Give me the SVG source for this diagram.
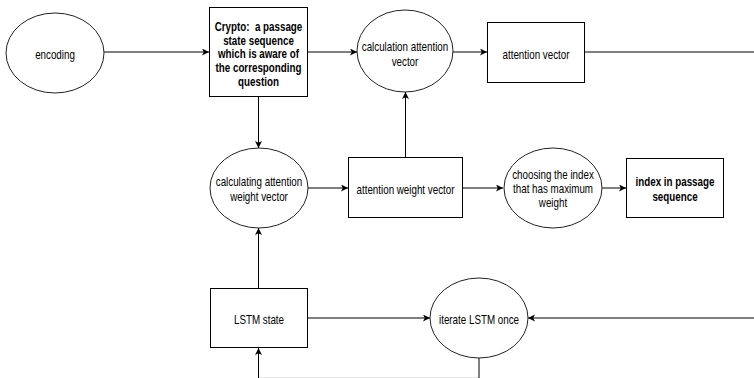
<svg xmlns="http://www.w3.org/2000/svg" width="754" height="378" viewBox="0 0 754 378">
<style>
.b{fill:#fff;stroke:#000;stroke-width:1}
.e{fill:#fff;stroke:#222;stroke-width:1}
.c{fill:none;stroke:#000;stroke-width:1}
.t{font-family:"Liberation Sans",Arial,sans-serif;font-size:12px;fill:#000;text-anchor:middle}
.bd{font-weight:bold}
</style>
<defs>
<marker id="a" markerUnits="userSpaceOnUse" markerWidth="10" markerHeight="10" refX="7" refY="3.5" orient="auto">
<path d="M0,0 L7,3.5 L0,7 L1.8,3.5 z" fill="#000"/>
</marker>
</defs>
<rect width="754" height="378" fill="#fff"/>
<g id="connectors">
<line class="c" x1="104" y1="52" x2="209" y2="52" marker-end="url(#a)"/>
<line class="c" x1="308" y1="52" x2="357" y2="52" marker-end="url(#a)"/>
<line class="c" x1="453" y1="52" x2="487" y2="52" marker-end="url(#a)"/>
<line class="c" x1="585" y1="52" x2="754" y2="52"/>
<line class="c" x1="258.5" y1="97" x2="258.5" y2="148" marker-end="url(#a)"/>
<line class="c" x1="405.5" y1="157" x2="405.5" y2="92" marker-end="url(#a)"/>
<line class="c" x1="308" y1="188" x2="348" y2="188" marker-end="url(#a)"/>
<line class="c" x1="463" y1="188" x2="503" y2="188" marker-end="url(#a)"/>
<line class="c" x1="602" y1="188" x2="626" y2="188" marker-end="url(#a)"/>
<line class="c" x1="258.5" y1="288" x2="258.5" y2="228" marker-end="url(#a)"/>
<line class="c" x1="308" y1="318" x2="430" y2="318" marker-end="url(#a)"/>
<line class="c" x1="754" y1="318" x2="528" y2="318" marker-end="url(#a)"/>
<path class="c" d="M479,358 L479,378.4 L258.5,378.4 L258.5,348" marker-end="url(#a)"/>
</g>
<g id="encoding">
<ellipse class="e" cx="55" cy="53" rx="49" ry="40"/>
<text class="t" transform="translate(55 0) scale(0.817 1)" x="0" y="59">encoding</text>
</g>
<g id="crypto">
<rect class="b" x="209.5" y="7.5" width="98" height="89"/>
<text class="t bd" transform="translate(258.5 0) scale(0.817 1)"><tspan x="0" y="31" style="white-space:pre" xml:space="preserve">Crypto:  a passage</tspan><tspan x="0" y="45">state sequence</tspan><tspan x="0" y="58.5">which is aware of</tspan><tspan x="0" y="72">the corresponding</tspan><tspan x="0" y="86">question</tspan></text>
</g>
<g id="calc-attention-vector">
<ellipse class="e" cx="405" cy="51" rx="48" ry="41"/>
<text class="t" transform="translate(405 0) scale(0.817 1)"><tspan x="0" y="51">calculation attention</tspan><tspan x="0" y="66">vector</tspan></text>
</g>
<g id="attention-vector">
<rect class="b" x="487.5" y="22.5" width="97" height="60"/>
<text class="t" transform="translate(536 0) scale(0.817 1)" x="0" y="59">attention vector</text>
</g>
<g id="calc-attention-weight">
<ellipse class="e" cx="259" cy="188" rx="49" ry="40"/>
<text class="t" transform="translate(259 0) scale(0.817 1)"><tspan x="0" y="186">calculating attention</tspan><tspan x="0" y="201">weight vector</tspan></text>
</g>
<g id="attention-weight-vector">
<rect class="b" x="348.5" y="157.5" width="114" height="60"/>
<text class="t" transform="translate(405.5 0) scale(0.817 1)" x="0" y="194">attention weight vector</text>
</g>
<g id="choosing-index">
<ellipse class="e" cx="553" cy="188" rx="49" ry="40"/>
<text class="t" transform="translate(553 0) scale(0.817 1)"><tspan x="0" y="179">choosing the index</tspan><tspan x="0" y="193">that has maximum</tspan><tspan x="0" y="207">weight</tspan></text>
</g>
<g id="index-in-passage">
<rect class="b" x="626.5" y="158.5" width="97" height="59"/>
<text class="t bd" transform="translate(675 0) scale(0.817 1)"><tspan x="0" y="186">index in passage</tspan><tspan x="0" y="201">sequence</tspan></text>
</g>
<g id="lstm-state">
<rect class="b" x="210.5" y="288.5" width="97" height="59"/>
<text class="t" transform="translate(259 0) scale(0.817 1)" x="0" y="324">LSTM state</text>
</g>
<g id="iterate-lstm">
<ellipse class="e" cx="479" cy="318" rx="49" ry="40"/>
<text class="t" transform="translate(479 0) scale(0.817 1)" x="0" y="324">iterate LSTM once</text>
</g>
</svg>
